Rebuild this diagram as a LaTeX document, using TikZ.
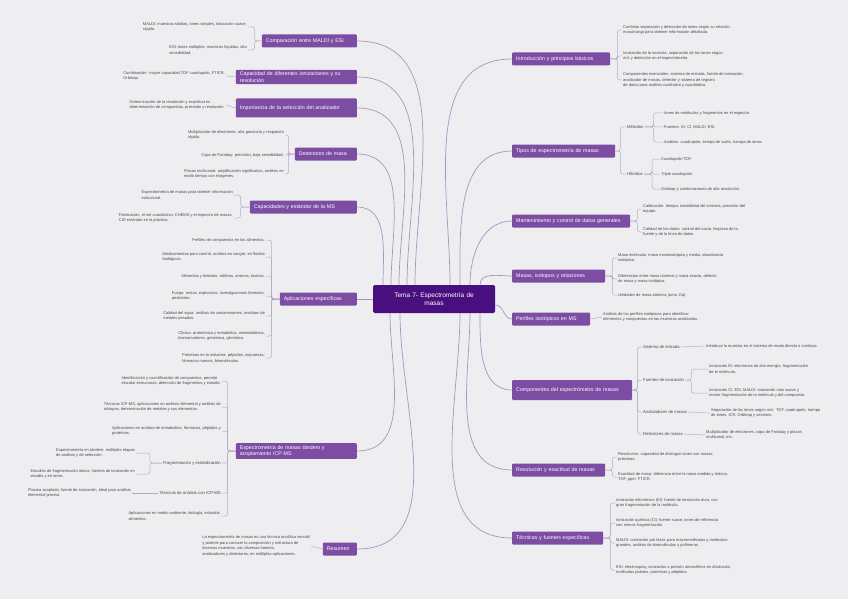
\documentclass[tikz,border=0pt]{standalone}
\usepackage{fontspec}
\setmainfont{Liberation Sans}
\definecolor{bgc}{HTML}{EEEEF1}
\definecolor{cDark}{HTML}{4A0F7E}
\definecolor{cMid}{HTML}{7D4CA3}
\definecolor{cLink}{HTML}{A596C2}
\definecolor{cBrk}{HTML}{B4ACC6}
\definecolor{cText}{HTML}{4A4A4A}
\tikzset{
  rootbox/.style={fill=cDark, text=white, font=\fontsize{6.5}{7.8}\selectfont, rounded corners=1.5pt, inner sep=2pt, align=center, text width=118pt, minimum height=28pt},
  brbox/.style={fill=cMid, text=white, font=\fontsize{5.3}{6.6}\selectfont, rounded corners=1pt, inner xsep=4pt, inner ysep=2pt, minimum height=13pt, align=left},
  leaf/.style={font=\fontsize{4}{5.6}\selectfont, text=cText, align=left, inner sep=1pt},
  sub/.style={font=\fontsize{4.2}{5.6}\selectfont, text=cText, align=left, inner sep=1pt},
  link/.style={draw=cLink, line width=0.7pt},
  brk/.style={draw=cBrk, line width=0.5pt, rounded corners=2.5pt},
}
\begin{document}
\begin{tikzpicture}[x=1pt,y=1pt]
\fill[bgc] (0,0) rectangle (848,-599);
\useasboundingbox (0,0) rectangle (848,-599);

% central
\node[rootbox] (C) at (434,-299) {Tema 7- Espectrometría de\\masas};

% ---------------- left branches ----------------
\node[brbox, anchor=east, text width=87pt] (L1) at (357,-41) {Comparación entre MALDI y ESI};
\node[brbox, anchor=east, text width=113pt] (L2) at (357,-77) {Capacidad de diferentes ionizaciones y su\\resolución};
\node[brbox, anchor=east, text width=113pt, minimum height=19pt] (L3) at (357,-108) {Importancia de la selección del analizador};
\node[brbox, anchor=east, text width=54pt] (L4) at (357,-154) {Detectores de masa};
\node[brbox, anchor=east, text width=99pt] (L5) at (357,-207) {Capacidades y estándar de la MS};
\node[brbox, anchor=east, text width=69pt] (L6) at (357,-299) {Aplicaciones específicas};
\node[brbox, anchor=east, text width=113pt] (L7) at (357,-451) {Espectrometría de masas tándem y\\acoplamiento ICP-MS};
\node[brbox, anchor=east, text width=26pt] (L8) at (357,-549) {Resumen};

% ---------------- right branches ----------------
\node[brbox, anchor=west, text width=90pt] (R1) at (512,-59) {Introducción y principios básicos};
\node[brbox, anchor=west, text width=95pt] (R2) at (512,-151) {Tipos de espectrometría de masas};
\node[brbox, anchor=west, text width=110pt] (R3) at (512,-221) {Mantenimiento y control de datos generales};
\node[brbox, anchor=west, text width=85pt] (R4) at (512,-276) {Masas, isótopos y relaciones};
\node[brbox, anchor=west, text width=70pt] (R5) at (512,-319) {Perfiles isotópicos en MS};
\node[brbox, anchor=west, text width=112pt, minimum height=20pt] (R6) at (512,-390) {Componentes del espectrómetro de masas};
\node[brbox, anchor=west, text width=85pt] (R7) at (512,-470) {Resolución y exactitud de masas};
\node[brbox, anchor=west, text width=83pt] (R8) at (512,-538) {Técnicas y fuentes específicas};

% ---------------- main connectors ----------------
\draw[link] (L1.east) to[out=0,in=90] ([xshift=-19pt]C.north);
\draw[link] (L2.east) to[out=0,in=90] ([xshift=-27pt]C.north);
\draw[link] (L3.east) to[out=0,in=90] ([xshift=-35pt]C.north);
\draw[link] (L4.east) to[out=0,in=90] ([xshift=-43pt]C.north);
\draw[link] (L5.east) to[out=0,in=90] ([xshift=-51pt]C.north);
\draw[link] (L6.east) -- (C.west);
\draw[link] (L7.east) to[out=0,in=-90] ([xshift=-44pt]C.south);
\draw[link] (L8.east) to[out=0,in=-90] ([xshift=-34pt]C.south);

\draw[link] ([xshift=16pt]C.north) to[out=90,in=180] (R1.west);
\draw[link] ([xshift=26pt]C.north) to[out=90,in=180] (R2.west);
\draw[link] ([xshift=36pt]C.north) to[out=90,in=180] (R3.west);
\draw[link] ([xshift=46pt]C.north) to[out=90,in=180] (R4.west);
\draw[link] ([yshift=-6pt]C.east) to[out=0,in=180] (R5.west);
\draw[link] ([xshift=46pt]C.south) to[out=-90,in=180] (R6.west);
\draw[link] ([xshift=36pt]C.south) to[out=-90,in=180] (R7.west);
\draw[link] ([xshift=26pt]C.south) to[out=-90,in=180] (R8.west);

% ---------------- left leaves ----------------
% L1
\node[leaf, anchor=east] (l1a) at (248,-27) {MALDI: muestras sólidas, iones simples, ionización suave,\\rápido.};
\node[leaf, anchor=east] (l1b) at (248,-50) {ESI: iones múltiples, muestras líquidas, alta\\sensibilidad.};
\foreach \n in {l1a,l1b} \draw[brk] (L1.west) -- ++(-7,0) |- (\n.east);
% L2
\node[leaf, anchor=east] (l2a) at (226,-76) {Combinación: mayor capacidad TOF cuadrupolo, FTICR,\\Orbitrap.};
\draw[brk] (L2.west) -- (l2a.east);
% L3
\node[leaf, anchor=east] (l3a) at (226,-105) {Determinación de la resolución y exactitud en\\determinación de compuestos, precisión y resolución.};
\draw[brk] (L3.west) -- (l3a.east);
% L4
\node[leaf, anchor=east] (l4a) at (285,-135) {Multiplicador de electrones: alta ganancia y respuesta\\rápida.};
\node[leaf, anchor=east] (l4b) at (285,-155) {Copa de Faraday: precisión, baja sensibilidad.};
\node[leaf, anchor=east] (l4c) at (285,-174) {Placas multicanal: amplificación significativa, análisis en\\modo tiempo con imágenes.};
\foreach \n in {l4a,l4b,l4c} \draw[brk] (L4.west) -- ++(-6,0) |- (\n.east);
% L5
\node[leaf, anchor=east] (l5a) at (234,-195) {Espectrometría de masas para obtener información\\estructural.};
\node[leaf, anchor=east] (l5b) at (234,-218) {Fabricación, el set cuantitativo, CHEMS y el espectro de masas,\\CID estándar en la práctica.};
\foreach \n in {l5a,l5b} \draw[brk] (L5.west) -- ++(-9,0) |- (\n.east);
% L6
\node[leaf, anchor=east] (l6a) at (266,-240) {Perfiles de compuestos en los alimentos.};
\node[leaf, anchor=east] (l6b) at (266,-257) {Medicamentos para control, análisis en sangre, en fluidos\\biológicos.};
\node[leaf, anchor=east] (l6c) at (266,-276) {Alimentos y bebidas: aditivos, aromas, toxinas.};
\node[leaf, anchor=east] (l6d) at (266,-296) {Fuego: restos, explosivos, investigaciones forenses,\\pesticidas.};
\node[leaf, anchor=east] (l6e) at (266,-316) {Calidad del agua: análisis de contaminantes, residuos de\\metales pesados.};
\node[leaf, anchor=east] (l6f) at (266,-336) {Clínica: proteómica y metabólica, metabolómica,\\biomarcadores, genómica, glicómica.};
\node[leaf, anchor=east] (l6g) at (266,-358) {Proteínas en la industria: péptidos, impurezas,\\fármacos nuevos, biomoléculas.};
\foreach \n in {l6a,l6b,l6c,l6d,l6e,l6f,l6g} \draw[brk] (L6.west) -- ++(-8,0) |- (\n.east);
% L7
\node[leaf, anchor=east] (l7a) at (222,-381) {Identificación y cuantificación de compuestos, permite\\elucidar estructuras, detección de fragmentos y estudio.};
\node[leaf, anchor=east] (l7b) at (222,-407) {Técnicas ICP-MS, aplicaciones en análisis elemental y análisis de\\isótopos, determinación de metales y sus elementos.};
\node[leaf, anchor=east] (l7c) at (222,-431) {Aplicaciones en análisis de metabolitos, fármacos, péptidos y\\proteínas.};
\node[sub, anchor=east] (l7d) at (222,-463) {Fragmentación y estabilización};
\node[sub, anchor=east] (l7e) at (222,-493) {Técnicas de análisis con ICP-MS};
\node[leaf, anchor=east] (l7f) at (222,-516) {Aplicaciones en medio ambiente, biología, industria,\\alimentos.};
\foreach \n in {l7a,l7b,l7c,l7d,l7e,l7f} \draw[brk] (L7.west) -- ++(-8,0) |- (\n.east);
\node[leaf, anchor=east] (l7d1) at (136,-453) {Espectrometría en tándem: múltiples etapas\\de análisis y de selección.};
\node[leaf, anchor=east] (l7d2) at (136,-474) {Estudios de fragmentación iónica, fuentes de ionización en\\estudio y en iones.};
\foreach \n in {l7d1,l7d2} \draw[brk] (l7d.west) -- ++(-12,0) |- (\n.east);
\node[leaf, anchor=east] (l7e1) at (132,-493) {Plasma acoplado, fuente de ionización, ideal para análisis\\elemental preciso.};
\draw[brk] (l7e.west) -- (l7e1.east);
% L8
\node[leaf, anchor=east] (l8a) at (311,-546) {La espectrometría de masas es una técnica analítica versátil\\y potente para conocer la composición y estructura de\\diversas muestras, con diversas fuentes,\\analizadores y detectores, en múltiples aplicaciones.};
\draw[brk] (L8.west) -- (l8a.east);

% ---------------- right leaves ----------------
% R1
\node[leaf, anchor=west] (r1a) at (622,-30) {Combina separación y detección de iones según su relación\\masa/carga para obtener información detallada.};
\node[leaf, anchor=west] (r1b) at (622,-56) {Ionización de la muestra, separación de los iones según\\m/z y detección en el espectrómetro.};
\node[leaf, anchor=west] (r1c) at (622,-80) {Componentes esenciales: sistema de entrada, fuente de ionización,\\analizador de masas, detector y sistema de registro\\de datos para análisis cualitativo y cuantitativo.};
\foreach \n in {r1a,r1b,r1c} \draw[brk] (R1.east) -- ++(7,0) |- (\n.west);
% R2
\node[sub, anchor=west] (r2a) at (626,-127) {Métodos};
\node[sub, anchor=west] (r2b) at (626,-174) {Híbridos};
\foreach \n in {r2a,r2b} \draw[brk] (R2.east) -- ++(5,0) |- (\n.west);
\node[leaf, anchor=west] (r2a1) at (663,-113) {Iones de moléculas y fragmentos en el espectro.};
\node[leaf, anchor=west] (r2a2) at (663,-127) {Fuentes: EI, CI, MALDI, ESI.};
\node[leaf, anchor=west] (r2a3) at (663,-142) {Análisis: cuadrupolo, tiempo de vuelo, trampa de iones.};
\foreach \n in {r2a1,r2a2,r2a3} \draw[brk] (r2a.east) -- ++(9,0) |- (\n.west);
\node[leaf, anchor=west] (r2b1) at (660,-159) {Cuadrupolo-TOF.};
\node[leaf, anchor=west] (r2b2) at (660,-174) {Triple cuadrupolo.};
\node[leaf, anchor=west] (r2b3) at (660,-189) {Orbitrap y combinaciones de alta resolución.};
\foreach \n in {r2b1,r2b2,r2b3} \draw[brk] (r2b.east) -- ++(8,0) |- (\n.west);
% R3
\node[leaf, anchor=west] (r3a) at (642,-209) {Calibración: tiempo, estabilidad del sistema, precisión del\\equipo.};
\node[leaf, anchor=west] (r3b) at (642,-232) {Calidad de los datos: control del vacío, limpieza de la\\fuente y de la línea de datos.};
\foreach \n in {r3a,r3b} \draw[brk] (R3.east) -- ++(7,0) |- (\n.west);
% R4
\node[leaf, anchor=west] (r4a) at (617,-258) {Masa molecular, masa monoisotópica y media, abundancia\\isotópica.};
\node[leaf, anchor=west] (r4b) at (617,-279) {Diferencias entre masa nominal y masa exacta, defecto\\de masa y masa isotópica.};
\node[leaf, anchor=west] (r4c) at (617,-295) {Unidades de masa atómica (uma, Da).};
\foreach \n in {r4a,r4b,r4c} \draw[brk] (R4.east) -- ++(7,0) |- (\n.west);
% R5
\node[leaf, anchor=west] (r5a) at (602,-317) {Análisis de los perfiles isotópicos para identificar\\elementos y compuestos en las muestras analizadas.};
\draw[brk] (R5.east) -- (r5a.west);
% R6
\node[sub, anchor=west] (r6a) at (642,-347) {Sistema de entrada};
\node[sub, anchor=west] (r6b) at (642,-380) {Fuentes de ionización};
\node[sub, anchor=west] (r6c) at (642,-412) {Analizadores de masas};
\node[sub, anchor=west] (r6d) at (642,-434) {Detectores de masas};
\foreach \n in {r6a,r6b,r6c,r6d} \draw[brk] (R6.east) -- ++(5,0) |- (\n.west);
\node[leaf, anchor=west] (r6a1) at (705,-346) {Introduce la muestra en el sistema de modo directo o continuo.};
\draw[brk] (r6a.east) -- (r6a1.west);
\node[leaf, anchor=west] (r6b1) at (708,-369) {Ionización EI: electrones de alta energía, fragmentación\\de la molécula.};
\node[leaf, anchor=west] (r6b2) at (708,-393) {Ionización CI, ESI, MALDI: ionización más suave y\\menor fragmentación de la molécula y del compuesto.};
\foreach \n in {r6b1,r6b2} \draw[brk] (r6b.east) -- ++(6,0) |- (\n.west);
\node[leaf, anchor=west] (r6c1) at (710,-413) {Separación de los iones según m/z: TOF, cuadrupolo, trampa\\de iones, ICR, Orbitrap y sectores.};
\draw[brk] (r6c.east) -- (r6c1.west);
\node[leaf, anchor=west] (r6d1) at (705,-435) {Multiplicador de electrones, copa de Faraday y placas\\multicanal, etc.};
\draw[brk] (r6d.east) -- (r6d1.west);
% R7
\node[leaf, anchor=west] (r7a) at (617,-457) {Resolución: capacidad de distinguir iones con masas\\próximas.};
\node[leaf, anchor=west] (r7b) at (617,-477) {Exactitud de masa: diferencia entre la masa medida y teórica,\\TOF, ppm, FTICR.};
\foreach \n in {r7a,r7b} \draw[brk] (R7.east) -- ++(7,0) |- (\n.west);
% R8
\node[leaf, anchor=west] (r8a) at (615,-503) {Ionización electrónica (EI): fuente de ionización dura, con\\gran fragmentación de la molécula.};
\node[leaf, anchor=west] (r8b) at (615,-523) {Ionización química (CI): fuente suave, iones de referencia\\con menos fragmentación.};
\node[leaf, anchor=west] (r8c) at (615,-543) {MALDI: ionización por láser, para macromoléculas y moléculas\\grandes, análisis de biomoléculas y polímeros.};
\node[leaf, anchor=west] (r8d) at (615,-570) {ESI: electrospray, ionización a presión atmosférica en disolución,\\moléculas polares, proteínas y péptidos.};
\foreach \n in {r8a,r8b,r8c,r8d} \draw[brk] (R8.east) -- ++(7,0) |- (\n.west);
\end{tikzpicture}
\end{document}
